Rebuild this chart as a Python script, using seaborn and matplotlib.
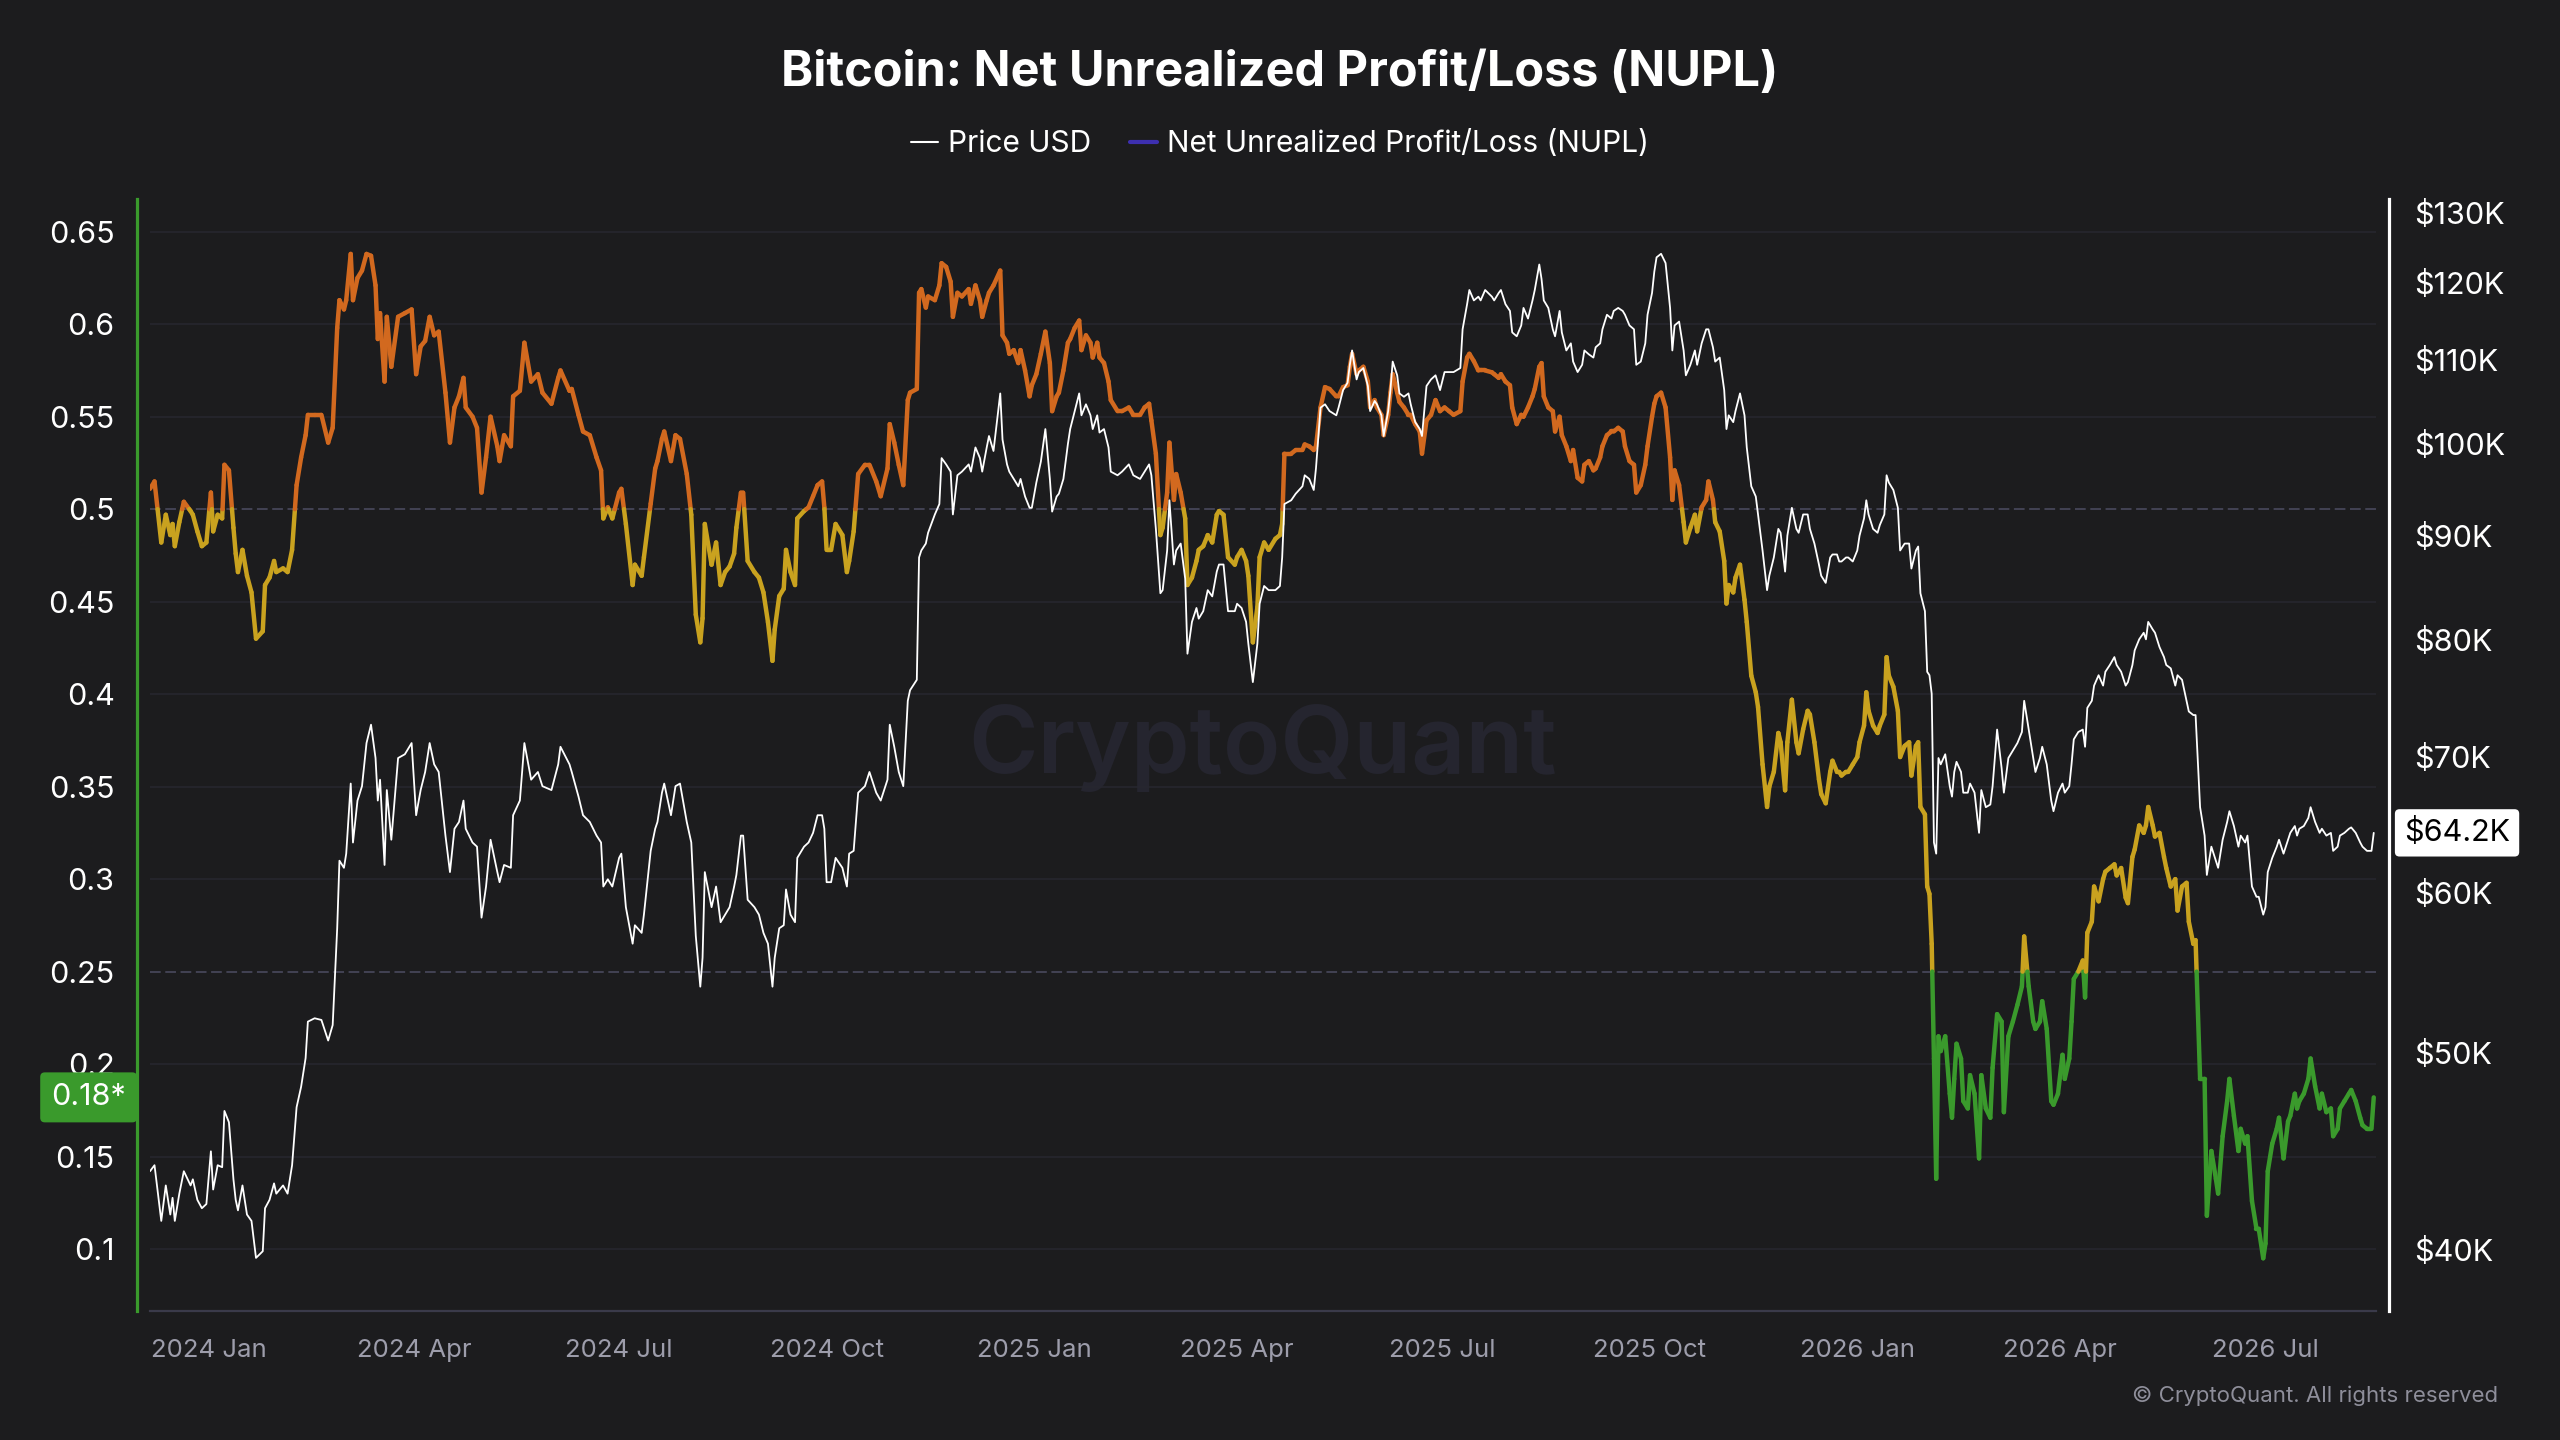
import matplotlib
matplotlib.use("Agg")
import matplotlib.pyplot as plt
import matplotlib.dates as mdates
import matplotlib.ticker as mticker
from matplotlib.collections import LineCollection
from matplotlib.lines import Line2D
from matplotlib.transforms import blended_transform_factory
import numpy as np
import pandas as pd
import seaborn as sns

# day offsets counted from 2024-01-01
days = [
    -26, -24, -21, -19, -17, -16, -15, -13, -11, -8, -7, -5, -3, -1, 1, 2, 4, 6, 7, 9,
    11, 12, 13, 15, 17, 19, 21, 24, 25, 27, 29, 30, 33, 35, 37, 39, 41, 43, 44, 47,
    50, 53, 55, 57, 58, 60, 61, 63, 64, 66, 68, 70, 72, 74, 75, 76, 78, 79, 81, 84,
    87, 90, 92, 94, 96, 98, 100, 102, 105, 107, 109, 111, 113, 114, 117, 119, 121, 123, 125, 128,
    129, 131, 134, 135, 138, 140, 143, 146, 148, 152, 155, 156, 160, 161, 164, 166, 169, 172, 174, 175,
    177, 179, 182, 183, 185, 188, 189, 192, 193, 196, 198, 199, 201, 202, 205, 207, 209, 212, 214, 216,
    218, 219, 220, 223, 225, 227,
    229, 231, 233, 234, 236, 237, 239, 242, 244, 246, 248, 250, 251, 253, 255, 256, 258, 260, 261, 264,
    266, 268, 270, 272, 273, 274, 276, 278, 281, 283, 284, 286, 288, 291, 293, 296, 298, 301, 302, 304,
    306, 308, 310, 311, 314, 315, 316, 318, 319, 322, 324, 325, 327, 329, 330, 332, 334, 337, 338, 340,
    342, 343, 345, 346, 348, 351, 352, 354, 355, 357, 359, 360, 362, 364, 365, 367, 369, 371, 373, 374,
    376, 377, 379, 381, 382, 384, 386, 387, 389, 391, 392, 394, 395, 397, 399, 400, 403, 405, 408, 410,
    413, 415, 417, 418, 420, 422, 423, 425, 426, 428, 429, 431, 433, 434, 436, 438, 439, 441, 443, 445,
    447, 448, 450, 452, 455, 456, 458, 460, 461, 463, 465, 466, 468, 470, 473, 475,
    476, 477, 480, 482, 485, 486, 488, 490, 491, 493, 495, 497, 500, 501, 503, 505, 506, 507, 509, 510,
    512, 514, 515, 517, 518, 520, 521, 523, 524, 525, 527, 528, 530, 532, 533, 535, 537, 538, 540, 542,
    544, 546, 548, 550, 552, 555, 556, 558, 559, 561, 563, 564, 566, 569, 570, 572, 573, 575, 577, 578,
    580, 582, 583, 585, 587, 588, 590, 591, 592, 594, 596, 597, 599, 600, 602, 604, 605, 607, 609, 610,
    612, 614, 615, 617, 618, 620, 622, 623, 625, 627, 628, 630, 632, 633, 635, 637, 638, 640, 641, 642,
    644, 646, 648, 649, 650, 652, 654, 655, 657, 659, 660, 662, 664, 665, 667, 668, 670, 672, 673, 674,
    676, 677, 679, 681, 682, 684, 686, 687, 689, 691, 692, 694, 696, 697, 699, 700, 702, 704, 705, 707,
    709, 710, 712, 714, 715, 717, 719, 720, 722, 723,
    724, 726, 727, 729, 731, 732, 734, 735, 736, 738, 740, 741, 743, 744, 745, 747, 749, 750, 752, 754,
    755, 757, 758, 759, 761, 762, 763, 764, 765, 766, 767, 768, 770, 772, 773, 774, 775, 777, 778, 780,
    781, 783, 785, 786, 788, 790, 791, 793, 795, 796, 798, 800, 802, 804, 805, 807, 809, 810, 812, 813,
    815, 817, 818, 820, 822, 823, 825, 826, 827, 829, 831, 832, 833, 835, 836, 838, 840, 841, 843, 845,
    846, 848, 850, 851, 853, 854, 856, 858, 859, 860, 862, 863, 865, 867, 868, 870, 872, 873, 875, 877,
    878, 880, 881, 883, 885, 886, 888, 890, 891, 893, 895, 896, 898, 900, 901, 903, 904, 906, 908, 909,
    911, 912, 913, 915, 917, 918, 920, 922, 923, 925, 926, 927, 929, 931, 932, 934, 936, 937, 939, 941,
    942, 944, 945, 947, 949, 950, 952, 954, 955, 957, 959, 960,
]

nupl = [
    0.511, 0.515, 0.482, 0.497, 0.486, 0.492, 0.480, 0.493, 0.504, 0.499, 0.497, 0.488, 0.480, 0.482, 0.509, 0.488, 0.497, 0.495, 0.524, 0.521,
    0.490, 0.476, 0.466, 0.478, 0.464, 0.455, 0.430, 0.434, 0.459, 0.463, 0.472, 0.466, 0.468, 0.466, 0.478, 0.513, 0.528, 0.540, 0.551, 0.551,
    0.551, 0.536, 0.544, 0.598, 0.613, 0.608, 0.613, 0.638, 0.613, 0.625, 0.629, 0.638, 0.637, 0.621, 0.592, 0.606, 0.569, 0.604, 0.577, 0.604,
    0.606, 0.608, 0.573, 0.588, 0.591, 0.604, 0.594, 0.596, 0.563, 0.536, 0.555, 0.561, 0.571, 0.555, 0.550, 0.544, 0.509, 0.528, 0.550, 0.534,
    0.526, 0.540, 0.534, 0.561, 0.564, 0.590, 0.569, 0.573, 0.563, 0.557, 0.571, 0.575, 0.564, 0.565, 0.551, 0.542, 0.540, 0.528, 0.521, 0.495,
    0.501, 0.495, 0.509, 0.511, 0.492, 0.459, 0.470, 0.464, 0.474, 0.503, 0.522, 0.526, 0.538, 0.542, 0.526, 0.540, 0.538, 0.519, 0.497, 0.443,
    0.428, 0.441, 0.492, 0.470, 0.482, 0.459,
    0.466, 0.469, 0.476, 0.490, 0.509, 0.509, 0.472, 0.466, 0.463, 0.455, 0.439, 0.418, 0.435, 0.453, 0.457, 0.478, 0.466, 0.459, 0.495, 0.499,
    0.501, 0.507, 0.513, 0.515, 0.501, 0.478, 0.478, 0.492, 0.486, 0.466, 0.472, 0.488, 0.519, 0.524, 0.524, 0.515, 0.507, 0.522, 0.546, 0.536,
    0.524, 0.513, 0.559, 0.563, 0.565, 0.617, 0.619, 0.609, 0.615, 0.613, 0.621, 0.633, 0.631, 0.623, 0.604, 0.617, 0.615, 0.619, 0.611, 0.621,
    0.613, 0.604, 0.613, 0.617, 0.621, 0.629, 0.594, 0.590, 0.584, 0.586, 0.579, 0.586, 0.575, 0.561, 0.567, 0.573, 0.584, 0.596, 0.579, 0.553,
    0.561, 0.563, 0.575, 0.590, 0.592, 0.598, 0.602, 0.586, 0.594, 0.590, 0.582, 0.590, 0.582, 0.579, 0.569, 0.559, 0.553, 0.553, 0.555, 0.551,
    0.551, 0.555, 0.557, 0.548, 0.530, 0.486, 0.490, 0.509, 0.536, 0.505, 0.519, 0.509, 0.495, 0.459, 0.463, 0.472, 0.478, 0.480, 0.486, 0.482,
    0.497, 0.499, 0.497, 0.474, 0.470, 0.474, 0.478, 0.472, 0.464, 0.428, 0.447, 0.474, 0.482, 0.478, 0.484, 0.486,
    0.492, 0.530, 0.530, 0.532, 0.532, 0.535, 0.534, 0.532, 0.534, 0.555, 0.566, 0.565, 0.561, 0.561, 0.566, 0.567, 0.577, 0.584, 0.573, 0.575,
    0.577, 0.569, 0.555, 0.559, 0.555, 0.551, 0.540, 0.551, 0.563, 0.573, 0.563, 0.558, 0.555, 0.551, 0.551, 0.546, 0.542, 0.530, 0.548, 0.551,
    0.559, 0.553, 0.555, 0.553, 0.551, 0.553, 0.569, 0.582, 0.584, 0.580, 0.575, 0.575, 0.575, 0.574, 0.573, 0.571, 0.573, 0.569, 0.567, 0.555,
    0.546, 0.551, 0.550, 0.555, 0.561, 0.565, 0.577, 0.579, 0.561, 0.555, 0.553, 0.542, 0.550, 0.540, 0.534, 0.526, 0.532, 0.517, 0.515, 0.524,
    0.526, 0.521, 0.522, 0.528, 0.534, 0.540, 0.542, 0.542, 0.544, 0.542, 0.534, 0.526, 0.524, 0.509, 0.513, 0.524, 0.534, 0.550, 0.557, 0.561,
    0.563, 0.555, 0.528, 0.505, 0.521, 0.513, 0.493, 0.482, 0.490, 0.497, 0.488, 0.501, 0.505, 0.515, 0.505, 0.493, 0.488, 0.472, 0.449, 0.459,
    0.455, 0.463, 0.470, 0.451, 0.439, 0.410, 0.401, 0.393, 0.362, 0.339, 0.350, 0.358, 0.379, 0.374, 0.348, 0.374, 0.397, 0.374, 0.368, 0.381,
    0.391, 0.389, 0.374, 0.354, 0.346, 0.341, 0.358, 0.364, 0.358, 0.358,
    0.356, 0.358, 0.358, 0.362, 0.366, 0.374, 0.383, 0.401, 0.391, 0.383, 0.379, 0.383, 0.389, 0.420, 0.410, 0.404, 0.391, 0.366, 0.372, 0.374,
    0.356, 0.372, 0.374, 0.339, 0.335, 0.296, 0.292, 0.265, 0.203, 0.138, 0.215, 0.207, 0.215, 0.184, 0.171, 0.192, 0.211, 0.203, 0.180, 0.176,
    0.194, 0.184, 0.149, 0.194, 0.176, 0.171, 0.198, 0.227, 0.223, 0.174, 0.215, 0.223, 0.232, 0.242, 0.269, 0.242, 0.223, 0.219, 0.223, 0.234,
    0.219, 0.180, 0.178, 0.184, 0.205, 0.192, 0.203, 0.223, 0.246, 0.250, 0.256, 0.236, 0.271, 0.277, 0.296, 0.288, 0.300, 0.304, 0.306, 0.308,
    0.302, 0.306, 0.290, 0.287, 0.312, 0.316, 0.329, 0.325, 0.329, 0.339, 0.329, 0.323, 0.325, 0.312, 0.306, 0.296, 0.300, 0.283, 0.296, 0.298,
    0.277, 0.265, 0.267, 0.192, 0.192, 0.118, 0.153, 0.138, 0.130, 0.161, 0.180, 0.192, 0.172, 0.153, 0.165, 0.157, 0.161, 0.126, 0.111, 0.111,
    0.095, 0.103, 0.142, 0.157, 0.165, 0.171, 0.149, 0.169, 0.172, 0.184, 0.176, 0.180, 0.184, 0.192, 0.203, 0.188, 0.176, 0.184, 0.174, 0.176,
    0.161, 0.165, 0.176, 0.180, 0.184, 0.186, 0.180, 0.171, 0.167, 0.165, 0.165, 0.182,
]

# BTC price in thousands of USD
price_k = [
    43.7, 44.0, 41.3, 43.0, 41.6, 42.4, 41.3, 42.6, 43.7, 43.0, 43.3, 42.3, 41.9, 42.1, 44.7, 42.8, 44.0, 43.9, 46.8, 46.2,
    43.3, 42.3, 41.8, 43.0, 41.6, 41.3, 39.6, 39.9, 41.9, 42.3, 43.1, 42.6, 43.0, 42.6, 44.0, 47.0, 48.1, 49.7, 51.8, 52.0,
    51.9, 50.7, 51.6, 57.6, 62.2, 61.7, 62.7, 67.9, 63.5, 66.6, 67.7, 71.1, 72.6, 69.9, 66.6, 68.2, 61.9, 67.4, 63.7, 69.9,
    70.2, 71.1, 65.5, 67.4, 68.8, 71.1, 69.4, 68.8, 64.0, 61.4, 64.5, 65.0, 66.6, 64.5, 63.5, 63.2, 58.3, 60.4, 63.7, 61.4,
    60.7, 61.9, 61.7, 65.5, 66.6, 71.1, 68.2, 68.8, 67.7, 67.4, 69.4, 70.8, 69.4, 68.8, 66.9, 65.5, 65.0, 64.0, 63.5, 60.4,
    60.9, 60.4, 62.4, 62.7, 59.0, 56.6, 57.8, 57.3, 58.5, 62.9, 64.5, 65.0, 67.2, 67.9, 65.5, 67.7, 67.9, 65.0, 63.5, 57.1,
    53.9, 55.7, 61.4, 59.0, 60.4, 58.0,
    58.5, 59.0, 60.4, 61.2, 64.0, 64.0, 59.5, 59.0, 58.5, 57.3, 56.6, 53.9, 55.7, 57.6, 57.8, 60.2, 58.5, 58.0, 62.4, 63.2,
    63.5, 64.2, 65.5, 65.5, 64.5, 60.7, 60.7, 62.4, 61.7, 60.4, 62.7, 62.9, 67.2, 67.7, 68.8, 67.2, 66.6, 68.2, 72.6, 70.8,
    68.8, 67.7, 74.6, 75.5, 76.4, 87.8, 88.5, 89.2, 90.3, 92.2, 93.3, 98.3, 97.6, 96.8, 92.2, 96.4, 96.8, 97.6, 96.8, 99.5,
    98.3, 96.8, 99.5, 100.8, 99.1, 105.8, 100.4, 97.6, 96.8, 96.0, 95.2, 96.0, 94.1, 92.9, 92.9, 95.6, 97.9, 101.6, 96.0, 92.5,
    94.1, 94.4, 96.0, 99.9, 101.6, 103.7, 105.8, 103.2, 104.5, 103.2, 101.6, 103.2, 101.2, 101.6, 99.5, 96.8, 96.4, 96.8, 97.6, 96.4,
    96.0, 96.8, 97.6, 96.4, 90.7, 84.3, 84.6, 88.5, 93.7, 87.1, 88.5, 89.2, 85.7, 78.7, 81.6, 82.9, 81.9, 82.6, 84.6, 84.0,
    86.4, 87.1, 87.1, 82.6, 82.6, 83.3, 82.9, 81.6, 79.6, 76.2, 79.6, 83.3, 85.0, 84.6, 84.6, 85.0,
    87.8, 93.3, 93.7, 94.4, 95.2, 96.4, 96.0, 94.8, 97.2, 104.1, 104.5, 103.7, 103.2, 104.1, 106.2, 107.1, 109.3, 111.1, 107.5, 108.4,
    108.9, 106.7, 103.7, 104.9, 104.5, 103.2, 100.8, 103.7, 106.2, 109.7, 108.0, 105.8, 105.4, 105.8, 104.5, 102.4, 101.6, 100.8, 106.7, 107.5,
    108.0, 106.2, 108.4, 108.4, 108.4, 108.9, 113.8, 117.1, 119.0, 117.6, 118.1, 117.6, 119.0, 118.1, 117.6, 118.6, 119.0, 117.1, 116.2, 113.4,
    112.9, 114.3, 116.6, 115.2, 117.6, 119.0, 122.5, 120.5, 117.6, 116.6, 113.8, 112.9, 116.2, 113.4, 111.1, 112.0, 109.7, 108.4, 109.3, 111.1,
    110.6, 110.2, 111.5, 112.0, 113.8, 115.7, 115.2, 116.2, 116.6, 116.2, 115.7, 114.3, 113.8, 109.3, 109.7, 112.0, 115.7, 118.6, 121.5, 123.5,
    124.0, 122.7, 116.6, 111.1, 114.3, 114.8, 111.1, 108.0, 109.3, 111.1, 109.3, 112.0, 113.8, 113.8, 111.5, 109.7, 110.2, 106.2, 101.6, 103.2,
    102.4, 103.7, 105.8, 103.2, 99.5, 95.2, 94.1, 92.2, 88.5, 84.6, 86.0, 87.8, 90.7, 90.3, 86.4, 90.0, 92.9, 90.7, 90.3, 92.2,
    92.2, 90.7, 89.2, 87.1, 86.0, 85.3, 87.8, 88.1, 88.1, 87.4,
    87.4, 87.8, 87.8, 87.4, 88.5, 90.0, 91.8, 93.7, 92.2, 90.7, 90.3, 91.1, 92.2, 96.4, 95.6, 94.8, 92.9, 88.5, 89.2, 89.2,
    86.7, 88.5, 88.9, 84.3, 82.6, 77.1, 76.8, 75.2, 63.5, 62.7, 69.9, 69.4, 70.2, 67.7, 66.9, 68.8, 69.6, 68.8, 67.2, 67.2,
    67.9, 67.2, 64.2, 67.4, 66.1, 66.3, 67.7, 72.2, 69.1, 67.2, 69.9, 70.5, 71.1, 72.0, 74.6, 72.2, 69.9, 68.8, 69.9, 70.8,
    69.4, 66.6, 65.8, 67.2, 67.9, 67.2, 67.7, 69.4, 71.4, 72.0, 72.2, 70.8, 74.0, 74.6, 75.9, 76.8, 75.9, 77.1, 77.7, 78.4,
    77.7, 77.1, 75.9, 76.2, 77.7, 79.0, 80.0, 80.6, 80.0, 81.6, 80.9, 80.6, 79.3, 78.4, 77.7, 77.4, 75.9, 76.8, 76.4, 74.6,
    73.7, 73.4, 73.4, 66.1, 64.0, 61.2, 63.2, 62.2, 61.7, 63.7, 65.0, 65.8, 64.7, 63.2, 64.0, 63.5, 64.0, 60.4, 59.7, 59.7,
    58.5, 59.0, 61.4, 62.4, 63.2, 63.7, 62.7, 63.7, 64.2, 64.7, 64.0, 64.5, 64.7, 65.3, 66.1, 65.0, 64.2, 64.5, 64.0, 64.2,
    62.9, 63.2, 64.0, 64.2, 64.5, 64.6, 64.2, 63.5, 63.2, 62.9, 62.9, 64.2,
]

nupl_ticks = [0.1, 0.15, 0.2, 0.25, 0.3, 0.35, 0.4, 0.45, 0.5, 0.55, 0.6, 0.65]
zone_lines = [0.5, 0.25]
price_ticks_k = [40, 50, 60, 70, 80, 90, 100, 110, 120, 130]
month_ticks = ["2024-01-01", "2024-04-01", "2024-07-01", "2024-10-01", "2025-01-01", "2025-04-01",
               "2025-07-01", "2025-10-01", "2026-01-01", "2026-04-01", "2026-07-01"]
month_labels = ["2024 Jan", "2024 Apr", "2024 Jul", "2024 Oct", "2025 Jan", "2025 Apr",
                "2025 Jul", "2025 Oct", "2026 Jan", "2026 Apr", "2026 Jul"]

BG = "#1c1c1e"
ORANGE = "#d2691f"
GOLD = "#c9a21f"
GREEN = "#3a9a2c"
GRID = "#27272f"
ZONE = "#4d4d62"

sns.set_theme(style="dark", rc={
    "axes.facecolor": BG, "figure.facecolor": BG, "savefig.facecolor": BG,
    "axes.edgecolor": BG, "axes.grid": False,
})
plt.rcParams["font.family"] = ["Inter", "DejaVu Sans"]

df = pd.DataFrame({
    "date": pd.Timestamp("2024-01-01") + pd.to_timedelta(days, unit="D"),
    "nupl": nupl,
    "price": np.array(price_k) * 1000,
})

fig = plt.figure(figsize=(25.6, 14.4), dpi=100)
ax = fig.add_axes([150 / 2560, 1 - 1311 / 1440, 2226 / 2560, 1112 / 1440])
ax2 = ax.twinx()


def zone_color(v):
    if v >= 0.5:
        return ORANGE
    if v >= 0.25:
        return GOLD
    return GREEN


# NUPL line, coloured by zone (split segments where they cross a zone line)
xs = mdates.date2num(df["date"])
ys = df["nupl"].to_numpy()
segs, cols = [], []
for i in range(len(xs) - 1):
    x0, y0, x1, y1 = xs[i], ys[i], xs[i + 1], ys[i + 1]
    pts = [(x0, y0)]
    cuts = [t for t in zone_lines if (y0 - t) * (y1 - t) < 0]
    for t in sorted(cuts, key=lambda t: (t - y0) / (y1 - y0)):
        f = (t - y0) / (y1 - y0)
        pts.append((x0 + f * (x1 - x0), t))
    pts.append((x1, y1))
    for a, b in zip(pts[:-1], pts[1:]):
        segs.append([a, b])
        cols.append(zone_color((a[1] + b[1]) / 2))
lc = LineCollection(segs, colors=cols, linewidths=3.2, capstyle="round", joinstyle="round", zorder=3)
ax.add_collection(lc)

# grid + zone lines
for t in nupl_ticks:
    if t in zone_lines:
        ax.axhline(t, color=ZONE, lw=1.1, ls=(0, (7, 3)), zorder=1)
    else:
        ax.axhline(t, color=GRID, lw=1.1, zorder=1)

ax.text(0.4996, 0.506, "CryptoQuant", transform=ax.transAxes, ha="center", va="center",
        fontsize=68, fontweight="semibold", color="#25252f", zorder=0)

# price line
sns.lineplot(data=df, x="date", y="price", ax=ax2, color="white", lw=1.3, zorder=4)
ax2.set_yscale("log")
ax2.set_ylim(37280, 131970)
ax2.set_yticks([p * 1000 for p in price_ticks_k])
ax2.yaxis.set_major_formatter(mticker.FuncFormatter(lambda v, _: f"${v / 1000:.0f}K"))
ax2.yaxis.set_minor_locator(mticker.NullLocator())
ax2.set_xlabel("")
ax2.set_ylabel("")

ax.set_ylim(0.0665, 0.6677)
ax.set_yticks(nupl_ticks)
ax.yaxis.set_major_formatter(mticker.FuncFormatter(lambda v, _: f"{v:g}"))
ax.set_xlim(mdates.date2num(pd.Timestamp("2024-01-01") - pd.Timedelta(days=26)),
            mdates.date2num(pd.Timestamp("2024-01-01") + pd.Timedelta(days=961)))
ax.set_xticks(mdates.date2num(pd.to_datetime(month_ticks)))
ax.set_xticklabels(month_labels)
ax.set_xlabel("")
ax.set_ylabel("")

# spines
for sp in ["top", "right"]:
    ax.spines[sp].set_visible(False)
for sp in ["top", "left", "bottom"]:
    ax2.spines[sp].set_visible(False)
ax.spines["left"].set_position(("outward", 9.5))
ax.spines["left"].set_color(GREEN)
ax.spines["left"].set_linewidth(2.3)
ax.spines["bottom"].set_color("#3a3a4a")
ax.spines["bottom"].set_linewidth(1.6)
ax2.spines["right"].set_position(("outward", 9.5))
ax2.spines["right"].set_color("white")
ax2.spines["right"].set_linewidth(2.3)

ax.tick_params(axis="y", length=0, pad=16, labelsize=22, labelcolor="white")
ax.tick_params(axis="x", length=11, width=1.5, color="#3a3a4a", pad=9, labelsize=18.5, labelcolor="#9d9dab")
ax2.tick_params(axis="y", length=0, pad=18, labelsize=22, labelcolor="white")

# last-value badges
tl = blended_transform_factory(ax.transAxes, ax.transData)
ax.text(-0.0108, nupl[-1], f"{nupl[-1]:.2f}*", transform=tl, ha="right", va="center",
        fontsize=22, color="white", clip_on=False, zorder=6,
        bbox=dict(boxstyle="round,pad=0.36,rounding_size=0.15", fc=GREEN, ec="none"))
tr = blended_transform_factory(ax2.transAxes, ax2.transData)
ax2.text(1.0126, price_k[-1] * 1000, f"${price_k[-1]:.1f}K", transform=tr, ha="left", va="center",
         fontsize=22, color="black", clip_on=False, zorder=6,
         bbox=dict(boxstyle="round,pad=0.3,rounding_size=0.15", fc="white", ec="none"))

fig.text(0.5, 0.949, "Bitcoin: Net Unrealized Profit/Loss (NUPL)", ha="center", va="center",
         fontsize=35, fontweight="bold", color="white")
handles = [Line2D([], [], color="white", lw=1.5), Line2D([], [], color="#3d2fb0", lw=3)]
fig.legend(handles, ["Price USD", "Net Unrealized Profit/Loss (NUPL)"], loc="center",
           bbox_to_anchor=(0.5, 0.9), ncol=2, frameon=False, fontsize=21.5, labelcolor="white",
           handlelength=0.9, handletextpad=0.35, columnspacing=1.3)
fig.text(2498 / 2560, 1 - 1396 / 1440, "© CryptoQuant. All rights reserved", ha="right", va="center",
         fontsize=16, color="#8e8e9a")

fig.savefig("out.png", dpi=100)
